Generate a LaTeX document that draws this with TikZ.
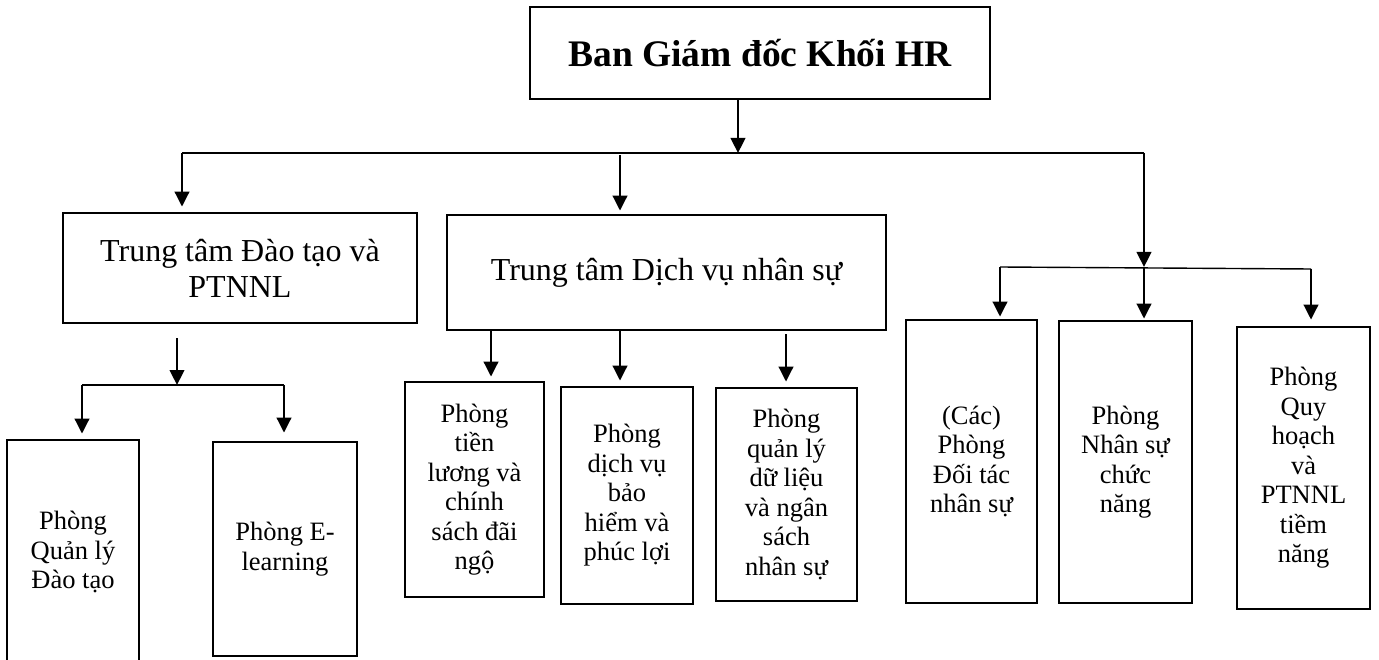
\documentclass[tikz,border=0pt]{standalone}
\usepackage{fontspec}
\setmainfont{Liberation Serif}
\usetikzlibrary{arrows.meta,calc}
\begin{document}
\begin{tikzpicture}[x=1pt,y=-1pt,
  box/.style={draw,line width=2.8pt,inner sep=0pt,align=center},
  bigtxt/.style={font=\fontsize{32}{36}\selectfont},
  smalltxt/.style={font=\fontsize{26.5}{29.5}\selectfont},
  arr/.style={line width=2.5pt,-{Triangle[length=15pt,width=14.5pt]}},
  thinline/.style={line width=1.4pt}]
\useasboundingbox (0,0) rectangle (1379,660);
\clip (0,0) rectangle (1379,660);
% boxes
\node[box,minimum width=460pt,minimum height=92pt,font=\bfseries\fontsize{37.5}{42}\selectfont] (top) at (760,53) {Ban Giám đốc Khối HR};
\node[box,bigtxt,minimum width=354pt,minimum height=110pt] (daotao) at (240,268) {Trung tâm Đào tạo và\\PTNNL};
\node[box,bigtxt,minimum width=439pt,minimum height=115pt] (dichvu) at (666.5,272.5) {Trung tâm Dịch vụ nhân sự};
\node[box,smalltxt,minimum width=132pt,minimum height=224pt] (ql) at (73,552) {Phòng\\Quản lý\\Đào tạo};
\node[box,smalltxt,minimum width=144pt,minimum height=214pt] (el) at (285,549) {Phòng E-\\learning};
\node[box,smalltxt,minimum width=139pt,minimum height=215pt] (s1) at (474.5,489.5) {Phòng\\tiền\\lương và\\chính\\sách đãi\\ngộ};
\node[box,smalltxt,minimum width=132pt,minimum height=217pt] (s2) at (627,495.5) {Phòng\\dịch vụ\\bảo\\hiểm và\\phúc lợi};
\node[box,smalltxt,minimum width=141pt,minimum height=213pt] (s3) at (786.5,494.5) {Phòng\\quản lý\\dữ liệu\\và ngân\\sách\\nhân sự};
\node[box,smalltxt,minimum width=131pt,minimum height=283pt] (ra) at (971.5,461.5) {(Các)\\Phòng\\Đối tác\\nhân sự};
\node[box,smalltxt,minimum width=133pt,minimum height=282pt] (rb) at (1125.5,462) {Phòng\\Nhân sự\\chức\\năng};
\node[box,smalltxt,minimum width=133pt,minimum height=282pt] (rc) at (1303.5,468) {Phòng\\Quy\\hoạch\\và\\PTNNL\\tiềm\\năng};
% junction coordinates
\coordinate (j1) at (738,153);
\coordinate (L) at (182,153);
\coordinate (R) at (1144,153);
\coordinate (M) at (620,155);
\coordinate (rj) at (1144,267);
\coordinate (rL) at (1000,267);
\coordinate (rR) at (1311,269);
\coordinate (lj) at (177,385);
\coordinate (lL) at (82,385);
\coordinate (lR) at (284,385);
% connectors
\draw[arr] (top.south -| j1) -- (j1);
\draw[thinline] (L) -- (R);
\draw[arr,shorten >=5pt] (L) -- (daotao.north -| L);
\draw[arr,shorten >=3pt] (M) -- (dichvu.north -| M);
\draw[arr] (R) -- (rj);
\draw[thinline] (rL) -- (rR);
\draw[arr,shorten >=2pt] (rL) -- (ra.north -| rL);
\draw[arr,shorten >=1pt] (rj) -- (rb.north -| rj);
\draw[arr,shorten >=6pt] (rR) -- (rc.north -| rR);
\draw[arr,shorten >=4pt] (dichvu.south -| 491,0) -- (s1.north -| 491,0);
\draw[arr,shorten >=5pt] (dichvu.south -| 620,0) -- (s2.north -| 620,0);
\draw[arr,shorten >=5pt] ($(dichvu.south -| 786,0)+(0,3)$) -- (s3.north -| 786,0);
\draw[arr,shorten <=14pt] (daotao.south -| lj) -- (lj);
\draw[thinline] (lL) -- (lR);
\draw[arr,shorten >=5pt] (lL) -- (ql.north -| lL);
\draw[arr,shorten >=8pt] (lR) -- (el.north -| lR);
\end{tikzpicture}
\end{document}
